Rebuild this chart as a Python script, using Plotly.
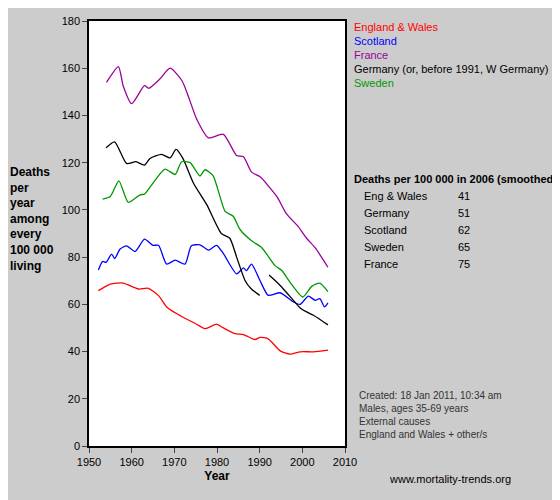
import plotly.graph_objects as go

ew_years = [1952.2, 1955, 1958, 1961.6, 1963.9, 1966.3, 1968.2, 1970.5, 1972.5, 1974.8, 1977.2, 1979.9, 1981.5, 1984.2, 1986.2, 1988.9, 1990.1, 1992, 1994.8, 1997.1, 1999.5, 2002.6, 2006]
ew_vals = [65.8, 68.6, 69, 66.5, 66.8, 63.7, 58.9, 56.1, 54.1, 52, 49.7, 51.6, 50, 47.6, 47.2, 45.1, 46, 45.4, 40.3, 38.9, 39.9, 39.9, 40.6]

sc_years = [1952.2, 1953.2, 1954, 1955.3, 1956, 1957.3, 1958.8, 1960.8, 1963, 1965, 1966.3, 1968.2, 1970.2, 1972.5, 1974, 1976, 1978, 1979.9, 1981.5, 1984.6, 1986.2, 1986.9, 1988.1, 1990.1, 1992, 1994.8, 1997.9, 1999.5, 2001.4, 2003, 2004.1, 2005.2, 2006]
sc_vals = [74.5, 78.2, 77.8, 81.3, 79.4, 83.4, 84.8, 82.4, 87.6, 85, 85, 77, 78.7, 77, 84.8, 85.2, 83, 85, 81.5, 72.9, 75.4, 74.3, 77, 70, 63.8, 64.9, 61, 60, 63.5, 61.7, 62.4, 58.9, 60.6]

fr_years = [1954.1, 1956.9, 1958, 1960, 1963, 1964, 1966.6, 1969, 1971.8, 1973.3, 1975.2, 1978, 1981.5, 1984.6, 1986.2, 1988.1, 1990.1, 1994, 1996.3, 1999, 2001, 2003, 2006]
fr_vals = [154, 160.7, 152.6, 145, 152.6, 151.5, 155.4, 160, 154.7, 148, 138.6, 130.5, 132, 123, 122.5, 116, 114, 105.7, 98.3, 93, 88, 84, 75.7]

de_years = [1954, 1956, 1958.8, 1961, 1963, 1964.3, 1967, 1969, 1970.4, 1972, 1974.5, 1977.6, 1981, 1983, 1984.6, 1986.6, 1988, 1990,
            None, 1992.2, 1994.8, 1997.9, 1999.5, 2001, 2002.6, 2006]
de_vals = [126.3, 128.8, 119.7, 120.4, 119, 121.8, 123.5, 122, 125.6, 121.8, 111.3, 102.2, 90, 88, 80, 70, 66.6, 63.8,
           None, 72.4, 68, 61.7, 58.5, 56.8, 55.4, 51.3]

se_years = [1953.2, 1955, 1957, 1959.2, 1962, 1963, 1964.7, 1967.8, 1970.2, 1971.7, 1973.7, 1976, 1977.2, 1979.1, 1981.9, 1983.8, 1985.4, 1988.1, 1990.5, 1993.6, 1995.2, 1997.1, 2000.1, 2002.2, 2004.1, 2006]
se_vals = [104.6, 105.7, 112.3, 103.2, 106.4, 106.7, 110.6, 117.3, 115, 120.4, 120, 114.4, 117, 114.4, 99.4, 97.3, 91.7, 86.9, 84, 76.4, 74.3, 69.4, 63.1, 67.6, 69, 65.4]

legend_names = ['England & Wales', 'Scotland', 'France', 'Germany (or, before 1991, W Germany)', 'Sweden']
table_names = ['Eng & Wales', 'Germany', 'Scotland', 'Sweden', 'France']
table_vals = [41, 51, 62, 65, 75]

colors = ['#ff0000', '#0000ff', '#990099', '#000000', '#009900']
series = [(ew_years, ew_vals), (sc_years, sc_vals), (fr_years, fr_vals), (de_years, de_vals), (se_years, se_vals)]

fig = go.Figure()
for (xs, ys), c, n in zip(series, colors, legend_names):
    fig.add_trace(go.Scatter(x=xs, y=ys, mode='lines', name=n, line=dict(color=c, width=1.3, shape='spline', smoothing=0.6),
                             connectgaps=False, showlegend=False))

# page body adds an 8px offset, so work in reference pixels minus 8
OFF = 8
L, T, W, H = 89 - OFF, 15 - OFF, 256, 431
FW, FH = 560 - OFF, 500 - OFF


def px(x):
    return (x - OFF - L) / W


def py(y):
    return 1 - (y - OFF - T) / H


ann = []
for i, (n, c) in enumerate(zip(legend_names, colors)):
    ann.append(dict(text=n, x=px(352), y=py(21 + i * 14.2), xanchor='left', yanchor='middle',
                    font=dict(size=11, color=c)))
ann.append(dict(text='<b>Deaths per 100 000 in 2006 (smoothed)</b>', x=px(352), y=py(175),
                xanchor='left', yanchor='middle', font=dict(size=11, color='black')))
for i, (n, v) in enumerate(zip(table_names, table_vals)):
    ann.append(dict(text=n, x=px(362), y=py(192 + i * 17.3), xanchor='left', yanchor='middle',
                    font=dict(size=11, color='black')))
    ann.append(dict(text=str(v), x=px(472), y=py(192 + i * 17.3), xanchor='right', yanchor='middle',
                    font=dict(size=11, color='black')))
ann.append(dict(text='<b>Deaths<br>per<br>year<br>among<br>every<br>100 000<br>living</b>', x=px(8), y=py(216),
                xanchor='left', yanchor='middle', align='left', font=dict(size=12, color='black')))
ann.append(dict(text='Created: 18 Jan 2011, 10:34 am<br>Males, ages 35-69 years<br>External causes<br>England and Wales + other/s',
                x=px(357), y=py(415), xanchor='left', yanchor='middle', align='left',
                font=dict(size=10, color='#333333')))
ann.append(dict(text='www.mortality-trends.org', x=px(387), y=py(479), xanchor='left', yanchor='middle',
                font=dict(size=11, color='black')))
for a in ann:
    a.update(xref='paper', yref='paper', showarrow=False)

fig.update_layout(
    width=FW, height=FH,
    margin=dict(l=L, r=FW - L - W, t=T, b=FH - T - H),
    paper_bgcolor='#cccccc', plot_bgcolor='white',
    font=dict(family='Arial', size=11, color='black'),
    annotations=ann,
)
fig.update_xaxes(range=[1950, 2010], dtick=10, ticks='outside', ticklen=5, showgrid=False, zeroline=False,
                 showline=True, linecolor='black', linewidth=1.5, mirror=True,
                 title=dict(text='<b>Year</b>', font=dict(size=12), standoff=5))
fig.update_yaxes(range=[0, 180], dtick=20, ticks='outside', ticklen=5, showgrid=False, zeroline=False,
                 showline=True, linecolor='black', linewidth=1.5, mirror=True)

fig.write_html('out.html')
